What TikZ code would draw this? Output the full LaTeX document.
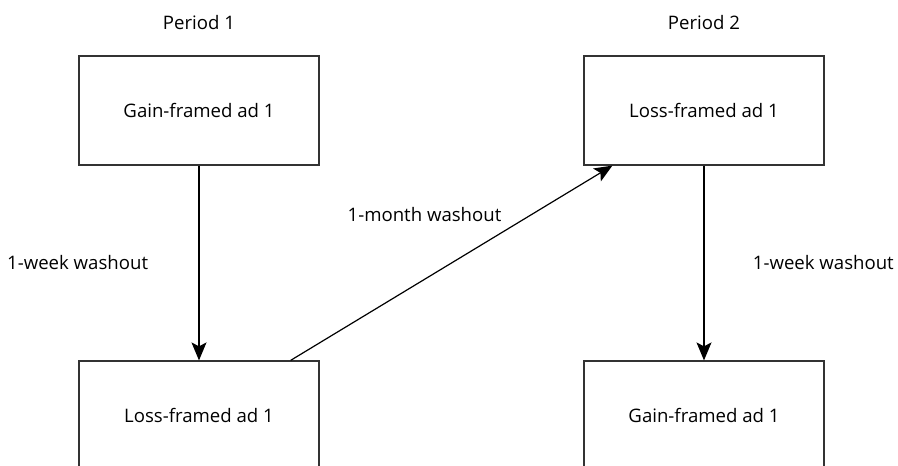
\documentclass[tikz,border=0pt]{standalone}
\usepackage{fontspec}
\setmainfont{Open Sans}
\usetikzlibrary{arrows.meta}

\begin{document}
\begin{tikzpicture}[x=1pt,y=-1pt,>={Stealth[length=18pt,width=15pt,inset=4pt]},
  line width=1.2pt,font=\fontsize{18.6}{22}\selectfont,
  box/.style={draw=black!80,rectangle,minimum width=240pt,minimum height=109pt,inner sep=0pt},
  node distance=505pt]

\useasboundingbox (0,0) rectangle (898,466);

\node[box]   (gain1)      at (199,110.5)     {Gain-framed ad 1};
 \node[box]   (loss2) [right of=gain1]      {Loss-framed ad 1};
\node[box]   (loss1) [below of=gain1,node distance=305pt]   {Loss-framed ad 1};
\node[box]   (gain2) [below of=loss2,node distance=305pt]   {Gain-framed ad 1};

\node (period1) [above of=gain1,node distance=88pt] {Period 1};
\node (period2) [above of=loss2,node distance=88pt] {Period 2};

	\path[->] (gain1) edge	node[left=47pt] {1-week washout} 	(loss1)
        (loss2) edge node[right=45pt] {1-week washout} 		 	(gain2)
					([xshift=-29pt]loss1.north east) edge node[xshift=-27pt,yshift=48pt] {1-month washout}  ([xshift=29pt]loss2.south west);

	\end{tikzpicture}
\end{document}
